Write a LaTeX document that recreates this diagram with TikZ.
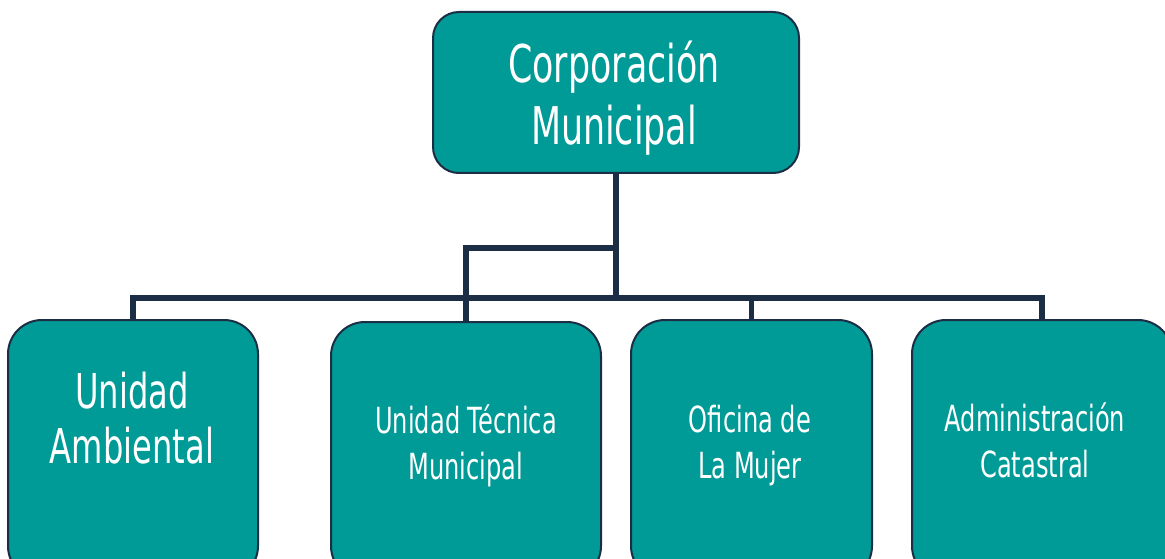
\documentclass[tikz,border=0pt]{standalone}
\usepackage{fontspec}
\newfontfamily\boxfont[FakeStretch=0.67]{DejaVu Sans}
\definecolor{teal1}{RGB}{0,154,151}
\definecolor{navy1}{RGB}{28,46,69}
\tikzset{
  orgbox/.style={draw=navy1, line width=2pt, fill=teal1, rounded corners=34pt, inner sep=0pt, outer sep=0pt},
  topbox/.style={orgbox, rounded corners=26pt},
  conn/.style={draw=navy1, line width=5.5pt},
  lbl/.style={text=white, align=center, anchor=base, inner sep=0pt},
  bigtxt/.style={lbl, font=\boxfont\fontsize{52}{62}\selectfont},
  midtxt/.style={lbl, font=\boxfont\fontsize{48}{55}\selectfont},
  smalltxt/.style={lbl, font=\boxfont\fontsize{36}{46}\selectfont}
}
\begin{document}
\begin{tikzpicture}[x=1pt,y=-1pt]
\useasboundingbox (0,0) rectangle (1165,559);
\clip (0,0) rectangle (1165,559);
\fill[white] (0,0) rectangle (1165,559);
% boxes
\node[topbox, minimum width=366pt, minimum height=161pt] (top) at (616,92.5) {};
\node[orgbox, minimum width=250pt, minimum height=260pt] (b1) at (133,450) {};
\node[orgbox, minimum width=270pt, minimum height=258pt] (b2) at (466,451) {};
\node[orgbox, minimum width=241pt, minimum height=260pt] (b3) at (751.5,450) {};
\node[orgbox, minimum width=260pt, minimum height=260pt] (b4) at (1042,450) {};
% connectors
\coordinate (j1) at (616,248);
\coordinate (j2) at (616,298);
\draw[conn] (top.south) -- (j2);
\draw[conn] (j1) -| (b2.north);
\draw[conn] (b1.north) -- (b1.north |- j2) -- (b4.north |- j2) -- (b4.north);
\draw[conn] (b3.north) -- (b3.north |- j2);
% texts (base = baseline of last line)
\node[bigtxt] (t0) at (614,145) {Corporación\\Municipal};
\node[midtxt] (t1) at (132,463) {Unidad\\Ambiental};
\node[smalltxt] (t2) at (466,479) {Unidad Técnica\\Municipal};
\node[smalltxt] (t3) at (750,478) {Oficina de\\La Mujer};
\node[smalltxt] (t4) at (1035,477) {Administración\\Catastral};
\end{tikzpicture}
\end{document}
